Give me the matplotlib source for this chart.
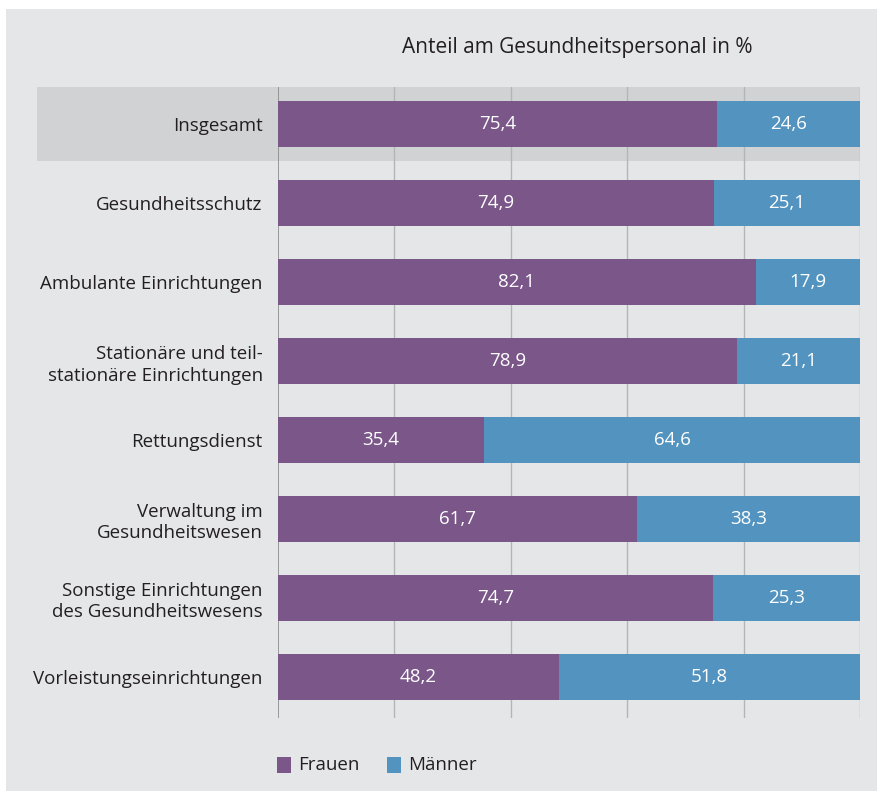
import matplotlib
matplotlib.use("Agg")
import matplotlib.pyplot as plt
from matplotlib.patches import Rectangle
import numpy as np

categories = [
    "Insgesamt",
    "Gesundheitsschutz",
    "Ambulante Einrichtungen",
    "Stationäre und teil-\nstationäre Einrichtungen",
    "Rettungsdienst",
    "Verwaltung im\nGesundheitswesen",
    "Sonstige Einrichtungen\ndes Gesundheitswesens",
    "Vorleistungseinrichtungen",
]
frauen = [75.4, 74.9, 82.1, 78.9, 35.4, 61.7, 74.7, 48.2]
maenner = [24.6, 25.1, 17.9, 21.1, 64.6, 38.3, 25.3, 51.8]
series_labels = ["Frauen", "Männer"]
title = "Anteil am Gesundheitspersonal in %"

W, H = 878, 791
BG = "#e5e6e8"
BAND = "#d1d2d4"
PURPLE = "#7a5689"
BLUE = "#5294bf"
TEXT = "#231f20"

plt.rcParams["font.family"] = ["Open Sans", "DejaVu Sans"]

fig = plt.figure(figsize=(W / 100, H / 100), dpi=100)
fig.patch.set_facecolor("white")


def fx(px):
    return px / W


def fy(py):
    return 1 - py / H


# grey panel and highlight band
fig.patches.append(Rectangle((fx(6), -0.01), 1.01 - fx(6), fy(9) + 0.01, transform=fig.transFigure,
                             facecolor=BG, edgecolor="none", zorder=0))
fig.patches.append(Rectangle((fx(37), fy(161)), fx(860) - fx(37), fy(87) - fy(161),
                             transform=fig.transFigure, facecolor=BAND,
                             edgecolor="none", zorder=1))

ax_left, ax_right, ax_top, ax_bot = 278, 860, 87, 718
ax = fig.add_axes([fx(ax_left), fy(ax_bot), fx(ax_right) - fx(ax_left), fy(ax_top) - fy(ax_bot)])
ax.set_zorder(5)
ax.patch.set_visible(False)

y = np.arange(len(categories))
h = 0.585
ax.barh(y, frauen, height=h, color=PURPLE, edgecolor="none", zorder=3)
ax.barh(y, maenner, left=frauen, height=h, color=BLUE, edgecolor="none", zorder=3)
for yi, f, m in zip(y, frauen, maenner):
    ax.text(f / 2, yi, f"{f:.1f}".replace(".", ","), color="white", ha="center",
            va="center", fontsize=13.5, zorder=4)
    ax.text(f + m / 2, yi, f"{m:.1f}".replace(".", ","), color="white", ha="center",
            va="center", fontsize=13.5, zorder=4)

ax.set_xlim(0, 100)
ax.set_ylim(7.52, -0.47)
for xv in [20, 40, 60, 80, 100]:
    ax.axvline(xv, color="#b4b5b7", linewidth=1.0, zorder=2)
ax.axvline(0, color="#8a8b8d", linewidth=1.2, zorder=2)
for s in ax.spines.values():
    s.set_visible(False)
ax.set_xticks([])
ax.set_yticks(y)
ax.set_yticklabels(categories, fontsize=13.5, color=TEXT, ha="right", linespacing=1.25)
ax.tick_params(axis="y", length=0, pad=11)

fig.text(fx(577), fy(47), title, ha="center", va="center", fontsize=15, color=TEXT)

# legend
for px, col, lab in [(277, PURPLE, series_labels[0]), (387, BLUE, series_labels[1])]:
    fig.patches.append(Rectangle((fx(px), fy(773)), fx(14), fy(757) - fy(773),
                                 transform=fig.transFigure, facecolor=col,
                                 edgecolor="none", zorder=2))
    fig.text(fx(px + 21), fy(765), lab, ha="left", va="center", fontsize=13.5, color=TEXT)

fig.savefig("out.png", dpi=100, facecolor=fig.get_facecolor())
